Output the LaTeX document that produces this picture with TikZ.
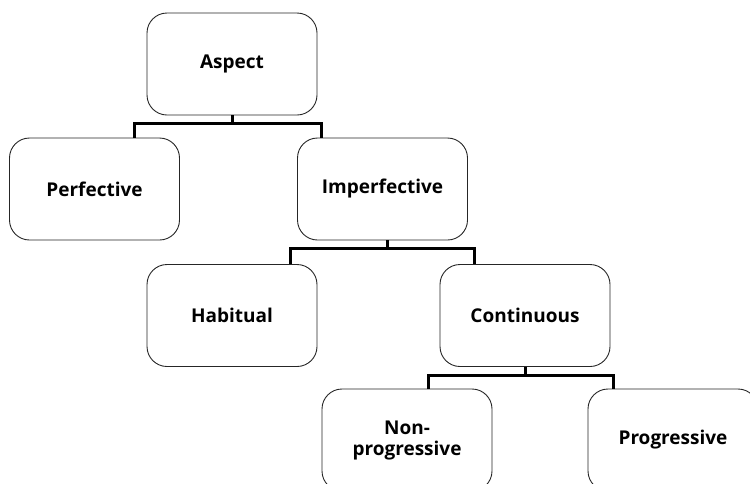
\documentclass[tikz,border=0pt]{standalone}
\usepackage{fontspec}
\setmainfont{Open Sans}
\usetikzlibrary{positioning}
\tikzset{x=1pt, y=-1pt, % One unit is one pixel of the page, y runs down
        box/.style={ % Sets the properties for each box
            draw=black!85,
            line width=0.9pt,
            rounded corners=20pt,
            minimum width=170pt,
            minimum height=102pt,
            align=center,
            font=\bfseries\fontsize{19}{21}\selectfont},
        branch/.style={ % Sets the properties for each connector
            draw,
            line width=3pt}
        }

\begin{document}
\begin{tikzpicture}
    \useasboundingbox (0,0) rectangle (750,483);

    \node[box] (asp) at (232,64) {Aspect};
    \node[box] (perf) at (94.5,189) {Perfective};
    \node[box] (imperf) at (382.5,189) {Imperfective};
    \node[box] (hab) at (232,315.5) {Habitual};
    \node[box] (cont) at (525,315.5) {Continuous};
    \node[box] (nonprog) at (407,440) {Non-\\progressive};
    \node[box] (prog) at (673,440) {Progressive};

    \draw[branch] (asp.south) -- ++(0,8) coordinate (j1);
    \draw[branch] ([xshift=39.5pt]perf.north) |- (j1) -| ([xshift=-61.5pt]imperf.north);

    \draw[branch] ([xshift=4.5pt]imperf.south) -- ++(0,8) coordinate (j2);
    \draw[branch] ([xshift=58pt]hab.north) |- (j2) -| ([xshift=-51pt]cont.north);

    \draw[branch] (cont.south) -- ++(0,9) coordinate (j3);
    \draw[branch] ([xshift=21pt]nonprog.north) |- (j3) -| ([xshift=-60pt]prog.north);
\end{tikzpicture}
\end{document}
